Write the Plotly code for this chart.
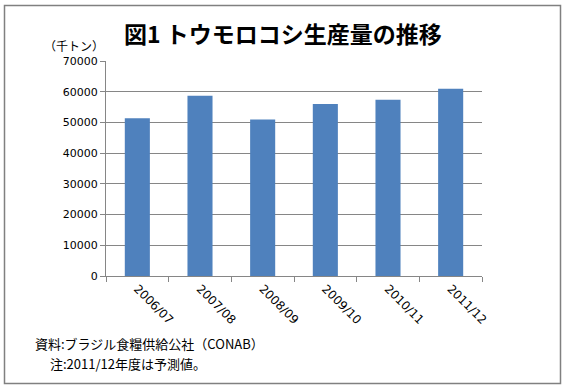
import plotly.graph_objects as go

categories = ["2006/07", "2007/08", "2008/09", "2009/10", "2010/11", "2011/12"]
production = [51370, 58652, 50970, 56018, 57407, 61000]
y_ticks = [0, 10000, 20000, 30000, 40000, 50000, 60000, 70000]

W, H = 566, 388
L, R, T, B = 106, 482, 61, 276  # plot area in pixels


def px(x):
    return (x - L) / (R - L)


def py(y):
    return (B - y) / (B - T)


fig = go.Figure(go.Bar(
    x=categories, y=production,
    marker=dict(color="#4F81BD", line=dict(width=0)),
))

jp = "Noto Sans CJK JP"
fig.update_layout(
    width=W, height=H,
    margin=dict(l=L, r=W - R, t=T, b=H - B, pad=0),
    paper_bgcolor="white", plot_bgcolor="white",
    bargap=0.6,
    showlegend=False,
    font=dict(family="DejaVu Sans", color="black"),
)
fig.update_xaxes(
    type="category", tickangle=45,
    showline=True, linecolor="#868686", linewidth=1,
    ticks="outside", tickson="boundaries", ticklen=5, tickcolor="#868686",
    tickfont=dict(size=12, family="DejaVu Sans"),
    showgrid=False,
)
fig.update_yaxes(
    range=[0, 70000], tickvals=y_ticks, ticktext=[str(v) for v in y_ticks],
    showline=True, linecolor="#868686", linewidth=1,
    ticks="outside", ticklen=5, tickcolor="#868686",
    showgrid=True, gridcolor="#868686", gridwidth=1,
    tickfont=dict(size=11, family="DejaVu Sans"),
    zeroline=False,
)

fig.add_shape(type="rect", xref="paper", yref="paper",
              x0=px(4.5), x1=px(560.5), y0=py(383.5), y1=py(5.5),
              line=dict(color="#808080", width=1.5), fillcolor="rgba(0,0,0,0)")

fig.add_annotation(text="<b>図1 トウモロコシ生産量の推移</b>", xref="paper", yref="paper",
                   x=px(283), y=py(33), xanchor="center", yanchor="middle",
                   showarrow=False, font=dict(family=jp, size=23, color="black"))
fig.add_annotation(text="（千トン）", xref="paper", yref="paper",
                   x=px(74), y=py(45), xanchor="center", yanchor="middle",
                   showarrow=False, font=dict(family=jp, size=12, color="black"))
fig.add_annotation(text="資料:ブラジル食糧供給公社（CONAB）", xref="paper", yref="paper",
                   x=px(33), y=py(343), xanchor="left", yanchor="middle",
                   showarrow=False, font=dict(family=jp, size=13, color="black"))
fig.add_annotation(text="注:2011/12年度は予測値。", xref="paper", yref="paper",
                   x=px(48), y=py(363), xanchor="left", yanchor="middle",
                   showarrow=False, font=dict(family=jp, size=13, color="black"))

fig.write_html("out.html", config={"displayModeBar": False},
               post_script="document.body.style.margin='0px';document.body.style.overflow='hidden';")
